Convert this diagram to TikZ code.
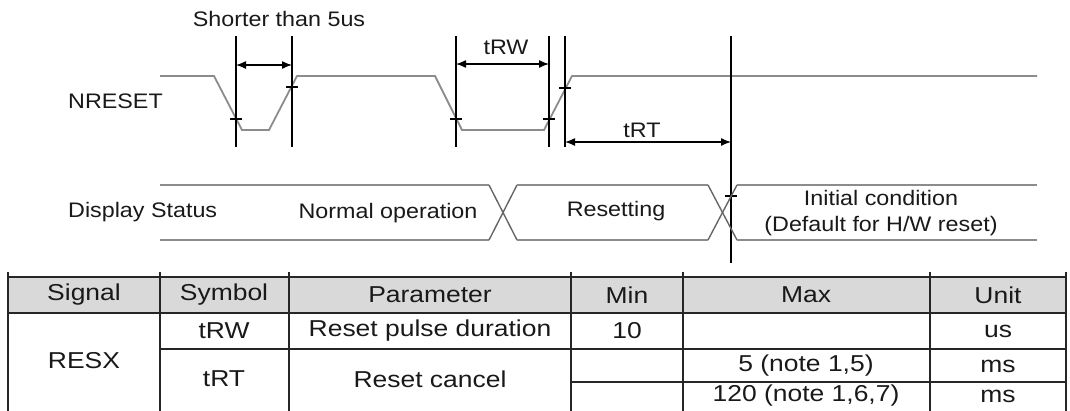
\documentclass[tikz,border=0pt]{standalone}
\usepackage{fontspec}
\setmainfont{Liberation Sans}
\newfontfamily\wavefont[FakeStretch=1.11]{Liberation Sans}
\newfontfamily\tabfont[FakeStretch=1.15]{Liberation Sans}
\usetikzlibrary{arrows.meta}
\begin{document}
\begin{tikzpicture}[x=1pt,y=-1pt,
  wave/.style={draw=black!45, line width=1.8pt},
  cross/.style={draw=black!60, line width=1.4pt},
  vline/.style={draw=black, line width=1.3pt},
  dimarrow/.style={draw=black, line width=1.3pt, {Latex[length=10pt,width=8pt]}-{Latex[length=10pt,width=8pt]}},
  tickmark/.style={draw=black, line width=1.1pt},
  lbl/.style={font=\wavefont\fontsize{21}{25}\selectfont, inner sep=0pt, text=black!90},
  tbl/.style={font=\tabfont\fontsize{23}{27}\selectfont, inner sep=0pt, text=black!90},
  gridline/.style={draw=black!85, line width=1.6pt}]
\useasboundingbox (0,0) rectangle (1070,410);

% ---------- NRESET waveform ----------
\coordinate (w0) at (160,76);
\coordinate (w1) at (214,76);
\coordinate (w2) at (242,130);
\coordinate (w3) at (269,130);
\coordinate (w4) at (297,76);
\coordinate (w5) at (435,76);
\coordinate (w6) at (462,130);
\coordinate (w7) at (544,130);
\coordinate (w8) at (572,76);
\coordinate (w9) at (1037,76);
\draw[wave] (w0) -- (w1) -- (w2) -- (w3) -- (w4) -- (w5) -- (w6) -- (w7) -- (w8) -- (w9);

% vertical marker lines
\coordinate (a1) at (236,36);  \coordinate (b1) at (236,147);
\coordinate (a2) at (292,36);  \coordinate (b2) at (292,147);
\coordinate (a3) at (456,36);  \coordinate (b3) at (456,147);
\coordinate (a4) at (549,36);  \coordinate (b4) at (549,147);
\coordinate (a5) at (565,36);  \coordinate (b5) at (565,147);
\coordinate (a6) at (731,36);  \coordinate (b6) at (731,263);
\foreach \i in {1,...,6} {\draw[vline] (a\i) -- (b\i);}

% tick marks
\foreach \x/\y in {236/119, 292/87, 456/119, 549/119, 565/88, 731/196}
  {\draw[tickmark] (\x-6,\y) -- (\x+6,\y);}

% dimension arrows
\coordinate (d1l) at (236,65); \coordinate (d1r) at (292,65);
\coordinate (d2l) at (456,64); \coordinate (d2r) at (549,64);
\coordinate (d3l) at (565,142); \coordinate (d3r) at (731,142);
\draw[dimarrow] (d1l) -- (d1r);
\draw[dimarrow] (d2l) -- (d2r);
\draw[dimarrow] (d3l) -- (d3r);

\node[lbl] (short) at (279,19) {Shorter than 5us};
\node[lbl] (trw) at (506,47) {tRW};
\node[lbl] (trt) at (642,130) {tRT};
\node[lbl, anchor=west] (nreset) at (68,101) {NRESET};

% ---------- Display status bus ----------
\draw[wave] (160,185) -- (489,185);
\draw[wave] (160,240) -- (489,240);
\draw[cross] (489,185) -- (517,240);
\draw[cross] (489,240) -- (517,185);
\draw[wave] (517,185) -- (708,185);
\draw[wave] (517,240) -- (708,240);
\draw[cross] (708,185) -- (737,240);
\draw[cross] (708,240) -- (737,185);
\draw[wave] (737,185) -- (1037,185);
\draw[wave] (737,240) -- (1037,240);

\node[lbl, anchor=west] (dstat) at (68,212) {Display Status};
\node[lbl] (normal) at (388,213) {Normal operation};
\node[lbl] (resetting) at (616,211) {Resetting};
\node[lbl, align=center] (initc) at (881,213) {Initial condition\\[1pt](Default for H/W reset)};

% ---------- Table ----------
\fill[black!15] (8,277) rectangle (1066,313);
\draw[gridline] (8,277) -- (1066,277);
\draw[gridline] (8,313) -- (1066,313);
\draw[gridline] (160,349) -- (1066,349);
\draw[gridline] (571,382) -- (1066,382);
\foreach \x in {8,160,289,571,683,930,1066}
  {\draw[gridline] (\x,272) -- (\x,412);}

\node[tbl] (hsig) at (84,295) {Signal};
\node[tbl] (hsym) at (224,295) {Symbol};
\node[tbl] (hpar) at (430,295) {Parameter};
\node[tbl] (hmin) at (627,295) {Min};
\node[tbl] (hmax) at (806,295) {Max};
\node[tbl] (hunit) at (998,295) {Unit};

\node[tbl] (resx) at (84,361) {RESX};
\node[tbl] (ctrw) at (224,331) {tRW};
\node[tbl] (cpulse) at (430,331) {Reset pulse duration};
\node[tbl] (cmin) at (627,331) {10};
\node[tbl] (cus) at (998,331) {us};
\node[tbl] (ctrt) at (224,379) {tRT};
\node[tbl] (ccancel) at (430,379) {Reset cancel};
\node[tbl] (cmax1) at (806,366) {5 (note 1,5)};
\node[tbl] (cms1) at (998,366) {ms};
\node[tbl] (cmax2) at (806,396) {120 (note 1,6,7)};
\node[tbl] (cms2) at (998,396) {ms};
\end{tikzpicture}
\end{document}
